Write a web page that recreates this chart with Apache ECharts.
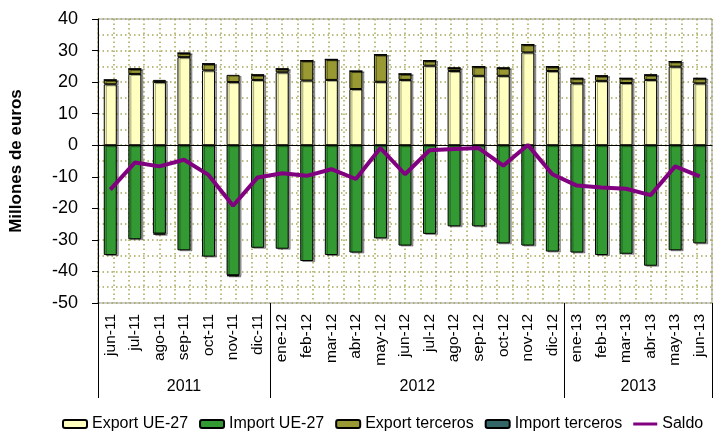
<!DOCTYPE html>
<html>
<head>
<meta charset="utf-8">
<script src="https://cdn.jsdelivr.net/npm/echarts@6/dist/echarts.min.js"></script>
<style>
  html, body { margin: 0; background: #fff; }
  #main { width: 723px; height: 439px; }
</style>
</head>
<body>
<div id="main"></div>
<script>
  const months = ['jun-11', 'jul-11', 'ago-11', 'sep-11', 'oct-11', 'nov-11', 'dic-11',
    'ene-12', 'feb-12', 'mar-12', 'abr-12', 'may-12', 'jun-12', 'jul-12', 'ago-12', 'sep-12', 'oct-12', 'nov-12', 'dic-12',
    'ene-13', 'feb-13', 'mar-13', 'abr-13', 'may-13', 'jun-13']
  const years = ['2011', '2012', '2013']
  const monthsPerYear = [7, 12, 6]

  const exportUE = [19.3, 22.6, 20.0, 27.9, 23.7, 20.0, 20.7, 23.1, 20.5, 20.7, 17.8, 20.1, 20.7,
    25.2, 23.5, 22.0, 22.0, 29.4, 23.5, 19.6, 20.4, 19.7, 20.7, 24.9, 19.6]
  const importUE = [-34.8, -29.8, -28.0, -33.3, -35.3, -41.2, -32.5, -32.8, -36.7, -34.8, -34.0, -29.5, -31.8,
    -28.1, -25.7, -25.7, -31.1, -31.8, -33.7, -34.0, -34.8, -34.4, -38.2, -33.3, -31.1]
  const exportTerceros = [1.4, 1.6, 0.7, 1.3, 2.1, 2.3, 1.6, 1.1, 6.3, 6.5, 5.7, 8.6, 1.9,
    1.6, 1.0, 2.9, 2.5, 2.5, 1.4, 1.6, 1.6, 1.5, 1.6, 1.6, 1.6]
  const importTerceros = [0, 0, -0.3, 0, 0, -0.3, 0, 0, 0, 0, 0, 0, 0,
    0, 0, 0, 0, 0, 0, 0, 0, 0, 0, 0, 0]
  const saldo = [-14.1, -5.5, -6.7, -4.6, -9.4, -19.2, -10.2, -8.9, -9.7, -7.6, -10.7, -0.9, -9.2,
    -1.6, -1.2, -0.9, -6.5, 0.1, -9.2, -12.8, -13.4, -13.8, -15.8, -6.7, -9.9]

  // year axis: half-month slots so labels sit in the middle of each year
  const yearSlots = []
  const yearTicks = [0]
  let pos = 0
  years.forEach((y, i) => {
    const n = monthsPerYear[i] * 2
    for (let k = 0; k < n; k++) yearSlots.push(k === n / 2 ? y : '')
    pos += n
    yearTicks.push(pos)
  })
  yearSlots.push('')

  const font = 'Arial, "Liberation Sans", sans-serif'
  const dotted = { color: '#a6a655', width: 1.5, type: [1.5, 3] }
  const barStyle = (color) => ({
    color: color,
    borderColor: '#000',
    borderWidth: 1,
    shadowColor: 'rgba(0,0,0,0.35)',
    shadowOffsetX: 2,
    shadowOffsetY: 1,
    shadowBlur: 0,
  })

  const chart = echarts.init(document.getElementById('main'))
  const option = {
    animation: false,
    textStyle: { fontFamily: font, color: '#000' },
    grid: {
      left: 92, right: 11, top: 19, bottom: 136,
      show: true, borderColor: '#999', borderWidth: 1,
    },
    legend: {
      top: 416,
      left: 62,
      width: 660,
      padding: 0,
      itemWidth: 24,
      itemHeight: 8,
      itemGap: 11,
      textStyle: { fontSize: 16, fontFamily: font, color: '#000' },
      data: [
        'Export UE-27', 'Import UE-27', 'Export terceros', 'Import terceros',
        { name: 'Saldo', icon: 'path://M0,0 H24 V3 H0 Z' },
      ],
    },
    xAxis: [
      {
        type: 'category',
        data: months,
        axisLine: { onZero: true, lineStyle: { color: '#000', width: 1 } },
        axisTick: { length: 4, lineStyle: { color: '#000' } },
        axisLabel: { show: false },
      },
      {
        type: 'category',
        data: months,
        position: 'bottom',
        axisLine: { show: false, onZero: false },
        axisTick: { length: 62, lineStyle: { color: '#000' } },
        axisLabel: { rotate: 90, margin: 11, fontSize: 15.5, color: '#000', interval: 0 },
      },
      {
        type: 'category',
        data: yearSlots,
        boundaryGap: false,
        position: 'bottom',
        axisLine: { show: false, onZero: false },
        axisTick: {
          length: 95,
          interval: (idx) => yearTicks.includes(idx),
          lineStyle: { color: '#000' },
        },
        axisLabel: {
          margin: 76,
          fontSize: 16,
          color: '#000',
          interval: (idx, val) => val !== '',
        },
      },
      {
        type: 'value',
        min: 0,
        max: 40,
        interval: 1,
        position: 'top',
        axisLine: { show: false },
        axisTick: { show: false },
        axisLabel: { show: false },
        splitLine: { show: true, lineStyle: dotted },
      },
    ],
    yAxis: {
      type: 'value',
      min: -50,
      max: 40,
      interval: 10,
      name: 'Millones de euros',
      nameLocation: 'middle',
      nameGap: 73,
      nameTextStyle: { fontSize: 17, fontWeight: 'bold', color: '#000' },
      axisLine: { show: true, lineStyle: { color: '#000' } },
      axisTick: { show: true, length: 6, lineStyle: { color: '#000' } },
      axisLabel: { fontSize: 18, margin: 20, color: '#000' },
      splitLine: { show: true, lineStyle: dotted },
      minorTick: { show: false, splitNumber: 2 },
      minorSplitLine: { show: true, lineStyle: dotted },
    },
    series: [
      {
        name: 'Export UE-27', type: 'bar', stack: 'total', barWidth: 13,
        itemStyle: barStyle('#ffffc0'), data: exportUE,
      },
      {
        name: 'Import UE-27', type: 'bar', stack: 'total', barWidth: 13,
        itemStyle: barStyle('#339933'), data: importUE,
      },
      {
        name: 'Export terceros', type: 'bar', stack: 'total', barWidth: 13,
        itemStyle: barStyle('#999933'), data: exportTerceros,
      },
      {
        name: 'Import terceros', type: 'bar', stack: 'total', barWidth: 13,
        itemStyle: barStyle('#336666'), data: importTerceros,
      },
      {
        name: 'Saldo', type: 'line', symbol: 'none', z: 5,
        lineStyle: { color: '#800080', width: 4 },
        itemStyle: { color: '#800080' },
        data: saldo,
      },
    ],
  }
  chart.setOption(option)
</script>
</body>
</html>
